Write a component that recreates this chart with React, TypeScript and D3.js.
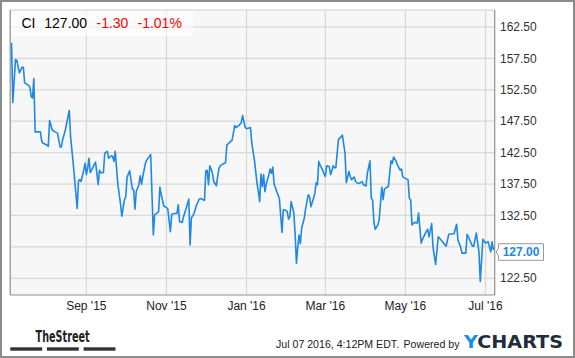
import React from "react";
import * as d3 from "d3";

const ticker = "CI";
const lastPriceText = "127.00";
const changeText = "-1.30";
const changePctText = "-1.01%";
const timestampText = "Jul 07 2016, 4:12PM EDT.";
const poweredByText = "Powered by";

const dates = [
  "2015-07-06","2015-07-07","2015-07-09","2015-07-10","2015-07-11","2015-07-12","2015-07-14","2015-07-15","2015-07-16","2015-07-19",
  "2015-07-20","2015-07-21","2015-07-22","2015-07-23","2015-07-24","2015-07-25","2015-07-28","2015-07-29","2015-07-30","2015-08-02",
  "2015-08-03","2015-08-04","2015-08-06","2015-08-08","2015-08-10","2015-08-12","2015-08-13","2015-08-14","2015-08-16","2015-08-19",
  "2015-08-20","2015-08-22","2015-08-25","2015-08-26","2015-08-27","2015-08-28","2015-08-30","2015-08-31","2015-09-01","2015-09-02",
  "2015-09-03","2015-09-04","2015-09-05","2015-09-08","2015-09-10","2015-09-11","2015-09-12","2015-09-14","2015-09-15","2015-09-17",
  "2015-09-18","2015-09-20","2015-09-21","2015-09-22","2015-09-23","2015-09-25","2015-09-27","2015-09-28","2015-09-30","2015-10-01",
  "2015-10-02","2015-10-04","2015-10-06","2015-10-07","2015-10-08","2015-10-09","2015-10-11","2015-10-12","2015-10-13","2015-10-14",
  "2015-10-16","2015-10-17","2015-10-20","2015-10-22","2015-10-23","2015-10-25","2015-10-26","2015-10-27","2015-10-28","2015-10-30",
  "2015-10-31","2015-11-02","2015-11-04","2015-11-05","2015-11-07","2015-11-09","2015-11-10","2015-11-11","2015-11-13","2015-11-14",
  "2015-11-16","2015-11-18","2015-11-19","2015-11-20","2015-11-22","2015-11-24","2015-11-26",
  "2015-11-27","2015-11-29","2015-11-30","2015-12-01","2015-12-02","2015-12-03","2015-12-04","2015-12-06","2015-12-07","2015-12-09",
  "2015-12-10","2015-12-11","2015-12-12","2015-12-14","2015-12-16","2015-12-17","2015-12-19","2015-12-21","2015-12-23","2015-12-24",
  "2015-12-26","2015-12-27","2015-12-28","2015-12-29","2015-12-31","2016-01-01","2016-01-04","2016-01-05","2016-01-07","2016-01-09",
  "2016-01-10","2016-01-11","2016-01-12","2016-01-13","2016-01-14","2016-01-15","2016-01-16","2016-01-18","2016-01-19","2016-01-20",
  "2016-01-21","2016-01-22","2016-01-24","2016-01-26","2016-01-28","2016-01-29","2016-01-31","2016-02-01","2016-02-02","2016-02-03",
  "2016-02-04","2016-02-06","2016-02-07","2016-02-08","2016-02-09","2016-02-10","2016-02-11","2016-02-12","2016-02-14","2016-02-15",
  "2016-02-17","2016-02-18","2016-02-19","2016-02-21","2016-02-22","2016-02-23","2016-02-24","2016-02-25","2016-02-26","2016-02-28",
  "2016-02-29","2016-03-01","2016-03-02","2016-03-04","2016-03-05","2016-03-06","2016-03-07","2016-03-08","2016-03-09","2016-03-11",
  "2016-03-13","2016-03-14","2016-03-16","2016-03-17","2016-03-19","2016-03-20","2016-03-21","2016-03-23","2016-03-24","2016-03-25",
  "2016-03-27","2016-03-29","2016-03-30","2016-04-01","2016-04-02","2016-04-04","2016-04-05","2016-04-06","2016-04-07","2016-04-08",
  "2016-04-10","2016-04-11","2016-04-13","2016-04-14","2016-04-15","2016-04-17","2016-04-18","2016-04-20","2016-04-21","2016-04-22",
  "2016-04-24","2016-04-25","2016-04-27",
  "2016-04-28","2016-04-29","2016-05-01","2016-05-03","2016-05-04","2016-05-05","2016-05-06","2016-05-08","2016-05-10","2016-05-11",
  "2016-05-13","2016-05-14","2016-05-17","2016-05-18","2016-05-19","2016-05-21","2016-05-22","2016-05-24","2016-05-26","2016-05-29",
  "2016-06-01","2016-06-03","2016-06-07","2016-06-09","2016-06-10","2016-06-12","2016-06-13","2016-06-16","2016-06-17","2016-06-19",
  "2016-06-21","2016-06-22","2016-06-24","2016-06-26","2016-06-27","2016-06-29","2016-07-01","2016-07-03",
  "2016-07-05","2016-07-06","2016-07-07"
];

const prices = [
  160.0,150.5,157.3,157.2,156.2,155.2,156.1,156.1,153.6,153.2,
  152.9,151.4,151.2,154.3,145.8,145.8,145.8,144.3,144.0,143.7,
  143.5,147.6,146.1,145.8,145.6,143.4,143.4,144.6,146.1,149.2,
  145.0,140.8,133.6,138.0,138.2,137.9,139.7,140.8,139.0,140.0,
  141.6,139.3,139.7,141.0,137.4,139.7,139.3,139.3,142.4,142.7,
  141.6,142.0,141.9,141.1,142.7,137.4,134.4,132.4,135.0,135.5,
  138.6,139.6,136.7,136.6,133.5,136.3,137.4,138.8,137.5,138.7,
  140.8,141.3,142.2,129.4,132.6,132.9,133.1,137.0,135.8,134.0,
  133.9,133.6,129.9,132.7,132.8,132.8,134.2,131.5,131.4,132.3,
  133.6,135.1,127.8,132.1,132.8,134.2,135.1,
  135.2,135.0,134.9,139.6,139.7,137.4,140.4,139.3,137.9,137.2,
  138.7,140.0,140.4,140.7,140.9,143.7,144.1,144.5,146.8,146.5,
  146.8,147.0,147.3,148.4,146.5,146.3,146.5,144.0,141.3,137.6,
  136.3,134.7,139.1,137.1,139.0,136.3,137.5,139.0,139.9,139.2,
  140.2,137.5,136.3,135.2,129.8,133.4,133.3,133.1,131.9,132.3,
  134.7,132.9,129.6,124.9,127.5,129.4,128.0,130.5,132.1,133.6,
  135.8,135.5,133.9,135.2,136.0,137.7,137.4,141.1,140.5,139.7,
  139.1,138.7,140.4,140.3,139.0,139.6,140.4,140.1,140.1,144.6,
  145.0,145.3,142.4,137.7,139.5,138.7,138.2,138.6,137.9,137.7,
  137.6,137.9,137.4,137.2,139.2,141.2,135.2,135.0,131.5,130.3,
  131.0,131.8,137.0,135.0,136.7,137.0,137.1,141.2,140.8,141.8,
  141.1,140.5,139.7,
  139.9,138.6,138.4,138.2,135.2,135.0,131.0,131.4,131.3,132.9,
  128.1,128.7,130.0,130.3,129.1,131.2,127.5,124.7,129.1,128.4,
  127.6,129.5,129.6,131.1,128.6,127.5,126.5,126.5,129.5,128.6,
  127.6,127.6,129.7,126.7,122.0,128.7,128.1,128.3,
  126.7,128.3,127.0
];

const yTicks = [122.5, 127.5, 132.5, 137.5, 142.5, 147.5, 152.5, 157.5, 162.5];
const xTickDates = ["2015-09-01", "2015-11-01", "2016-01-01", "2016-03-01", "2016-05-01", "2016-07-01"];
const xTickLabels = ["Sep '15", "Nov '15", "Jan '16", "Mar '16", "May '16", "Jul '16"];
const xDomain = ["2015-07-05", "2016-07-08"];
const yDomain = [119.84, 165.2];

const FONT = "'Liberation Sans', Arial, Helvetica, sans-serif";

export default function App() {
  const W = 575, H = 358;
  const L = 10.2, R = 494.7, T = 10, B = 295;
  const parse = d3.timeParse("%Y-%m-%d");
  const x = d3.scaleTime().domain([parse(xDomain[0])!, parse(xDomain[1])!]).range([L, R]);
  const y = d3.scaleLinear().domain(yDomain).range([B, T]);
  const data = dates.map((d, i) => ({ date: parse(d)!, value: prices[i] }));
  const line = d3.line<{ date: Date; value: number }>().x(d => x(d.date)).y(d => y(d.value));
  const last = data[data.length - 1];
  const tagY = y(last.value) + 2;
  const blue = "#1e88e5";

  return (
    <svg width={W} height={H} style={{ position: "absolute", left: 0, top: 0, display: "block" }} fontFamily={FONT}>
      <rect x={1} y={1} width={W - 2} height={H - 2} fill="#fff" stroke="#8c8c8c" strokeWidth={2} />
      <rect x={L} y={T} width={R - L} height={B - T} fill="#f7f7f7" />
      {yTicks.map(t => (
        <line key={"gy" + t} x1={L} x2={R} y1={y(t)} y2={y(t)} stroke="#d8d8d8" strokeWidth={1.2} />
      ))}
      {xTickDates.map(t => (
        <line key={"gx" + t} x1={x(parse(t)!)} x2={x(parse(t)!)} y1={T} y2={B} stroke="#d8d8d8" strokeWidth={1.2} />
      ))}
      <line x1={L} x2={R} y1={T} y2={T} stroke="#cfcfcf" strokeWidth={1} />
      <line x1={L} x2={L} y1={T} y2={B} stroke="#8f8f8f" strokeWidth={1.2} />
      <line x1={R} x2={R} y1={T} y2={B} stroke="#8f8f8f" strokeWidth={1.2} />
      <line x1={L} x2={R} y1={B} y2={B} stroke="#8f8f8f" strokeWidth={1.2} />
      <path d={line(data) || ""} fill="none" stroke={blue} strokeWidth={1.6} strokeLinejoin="round" />
      <rect x={11} y={11} width={182} height={25} fill="#fff" fillOpacity={0.6} />
      <text y={28} fontSize={14}>
        <tspan x={21.5} fill="#000">{ticker}</tspan>
        <tspan x={44.3} fill="#000">{lastPriceText}</tspan>
        <tspan x={96.5} fill="#f00">{changeText}</tspan>
        <tspan x={137.5} fill="#f00">{changePctText}</tspan>
      </text>
      {yTicks.filter(t => Math.abs(y(t) - tagY) > 11).map(t => (
        <text key={"ly" + t} x={500} y={y(t)} dy="0.35em" fontSize={12} fill="#333">{t.toFixed(2)}</text>
      ))}
      {xTickDates.map((t, i) => (
        <text key={"lx" + t} x={x(parse(t)!)} y={310} textAnchor="middle" fontSize={12} fill="#222">{xTickLabels[i]}</text>
      ))}
      <path
        d={`M${R + 1.5},${tagY} L${498.5},${tagY - 4} L${498.5},${tagY - 8.3} L${543.5},${tagY - 8.3} L${543.5},${tagY + 8.3} L${498.5},${tagY + 8.3} L${498.5},${tagY + 4} Z`}
        fill="#fff" stroke="#999" strokeWidth={1}
      />
      <text x={502.7} y={tagY} dy="0.36em" fontSize={12} fontWeight="bold" fill={blue}>{last.value.toFixed(2)}</text>
      <text x={35.6} y={341.7} fontSize={16} fontWeight="bold" fill="#222"
        fontFamily="'Liberation Sans Narrow', 'DejaVu Sans Condensed', Arial, sans-serif"
        textLength={54} lengthAdjust="spacingAndGlyphs">TheStreet</text>
      <rect x={10.3} y={347.3} width={31.9} height={3.4} fill="#333" />
      <rect x={46.9} y={347.3} width={31.9} height={3.4} fill="#333" />
      <rect x={83.6} y={347.3} width={31.9} height={3.4} fill="#333" />
      <text x={276} y={347.5} fontSize={10.6} fill="#222">{timestampText}</text>
      <text x={459.5} y={347.5} fontSize={10.6} fill="#222" textAnchor="end">{poweredByText}</text>
      <text x={464} y={348} fontSize={17.8} fontWeight="bold" fontFamily="'DejaVu Sans', Arial, sans-serif"
        textLength={99} lengthAdjust="spacingAndGlyphs">
        <tspan fill="#1a8fe3">Y</tspan><tspan fill="#1f2d3d">CHARTS</tspan>
      </text>
    </svg>
  );
}
